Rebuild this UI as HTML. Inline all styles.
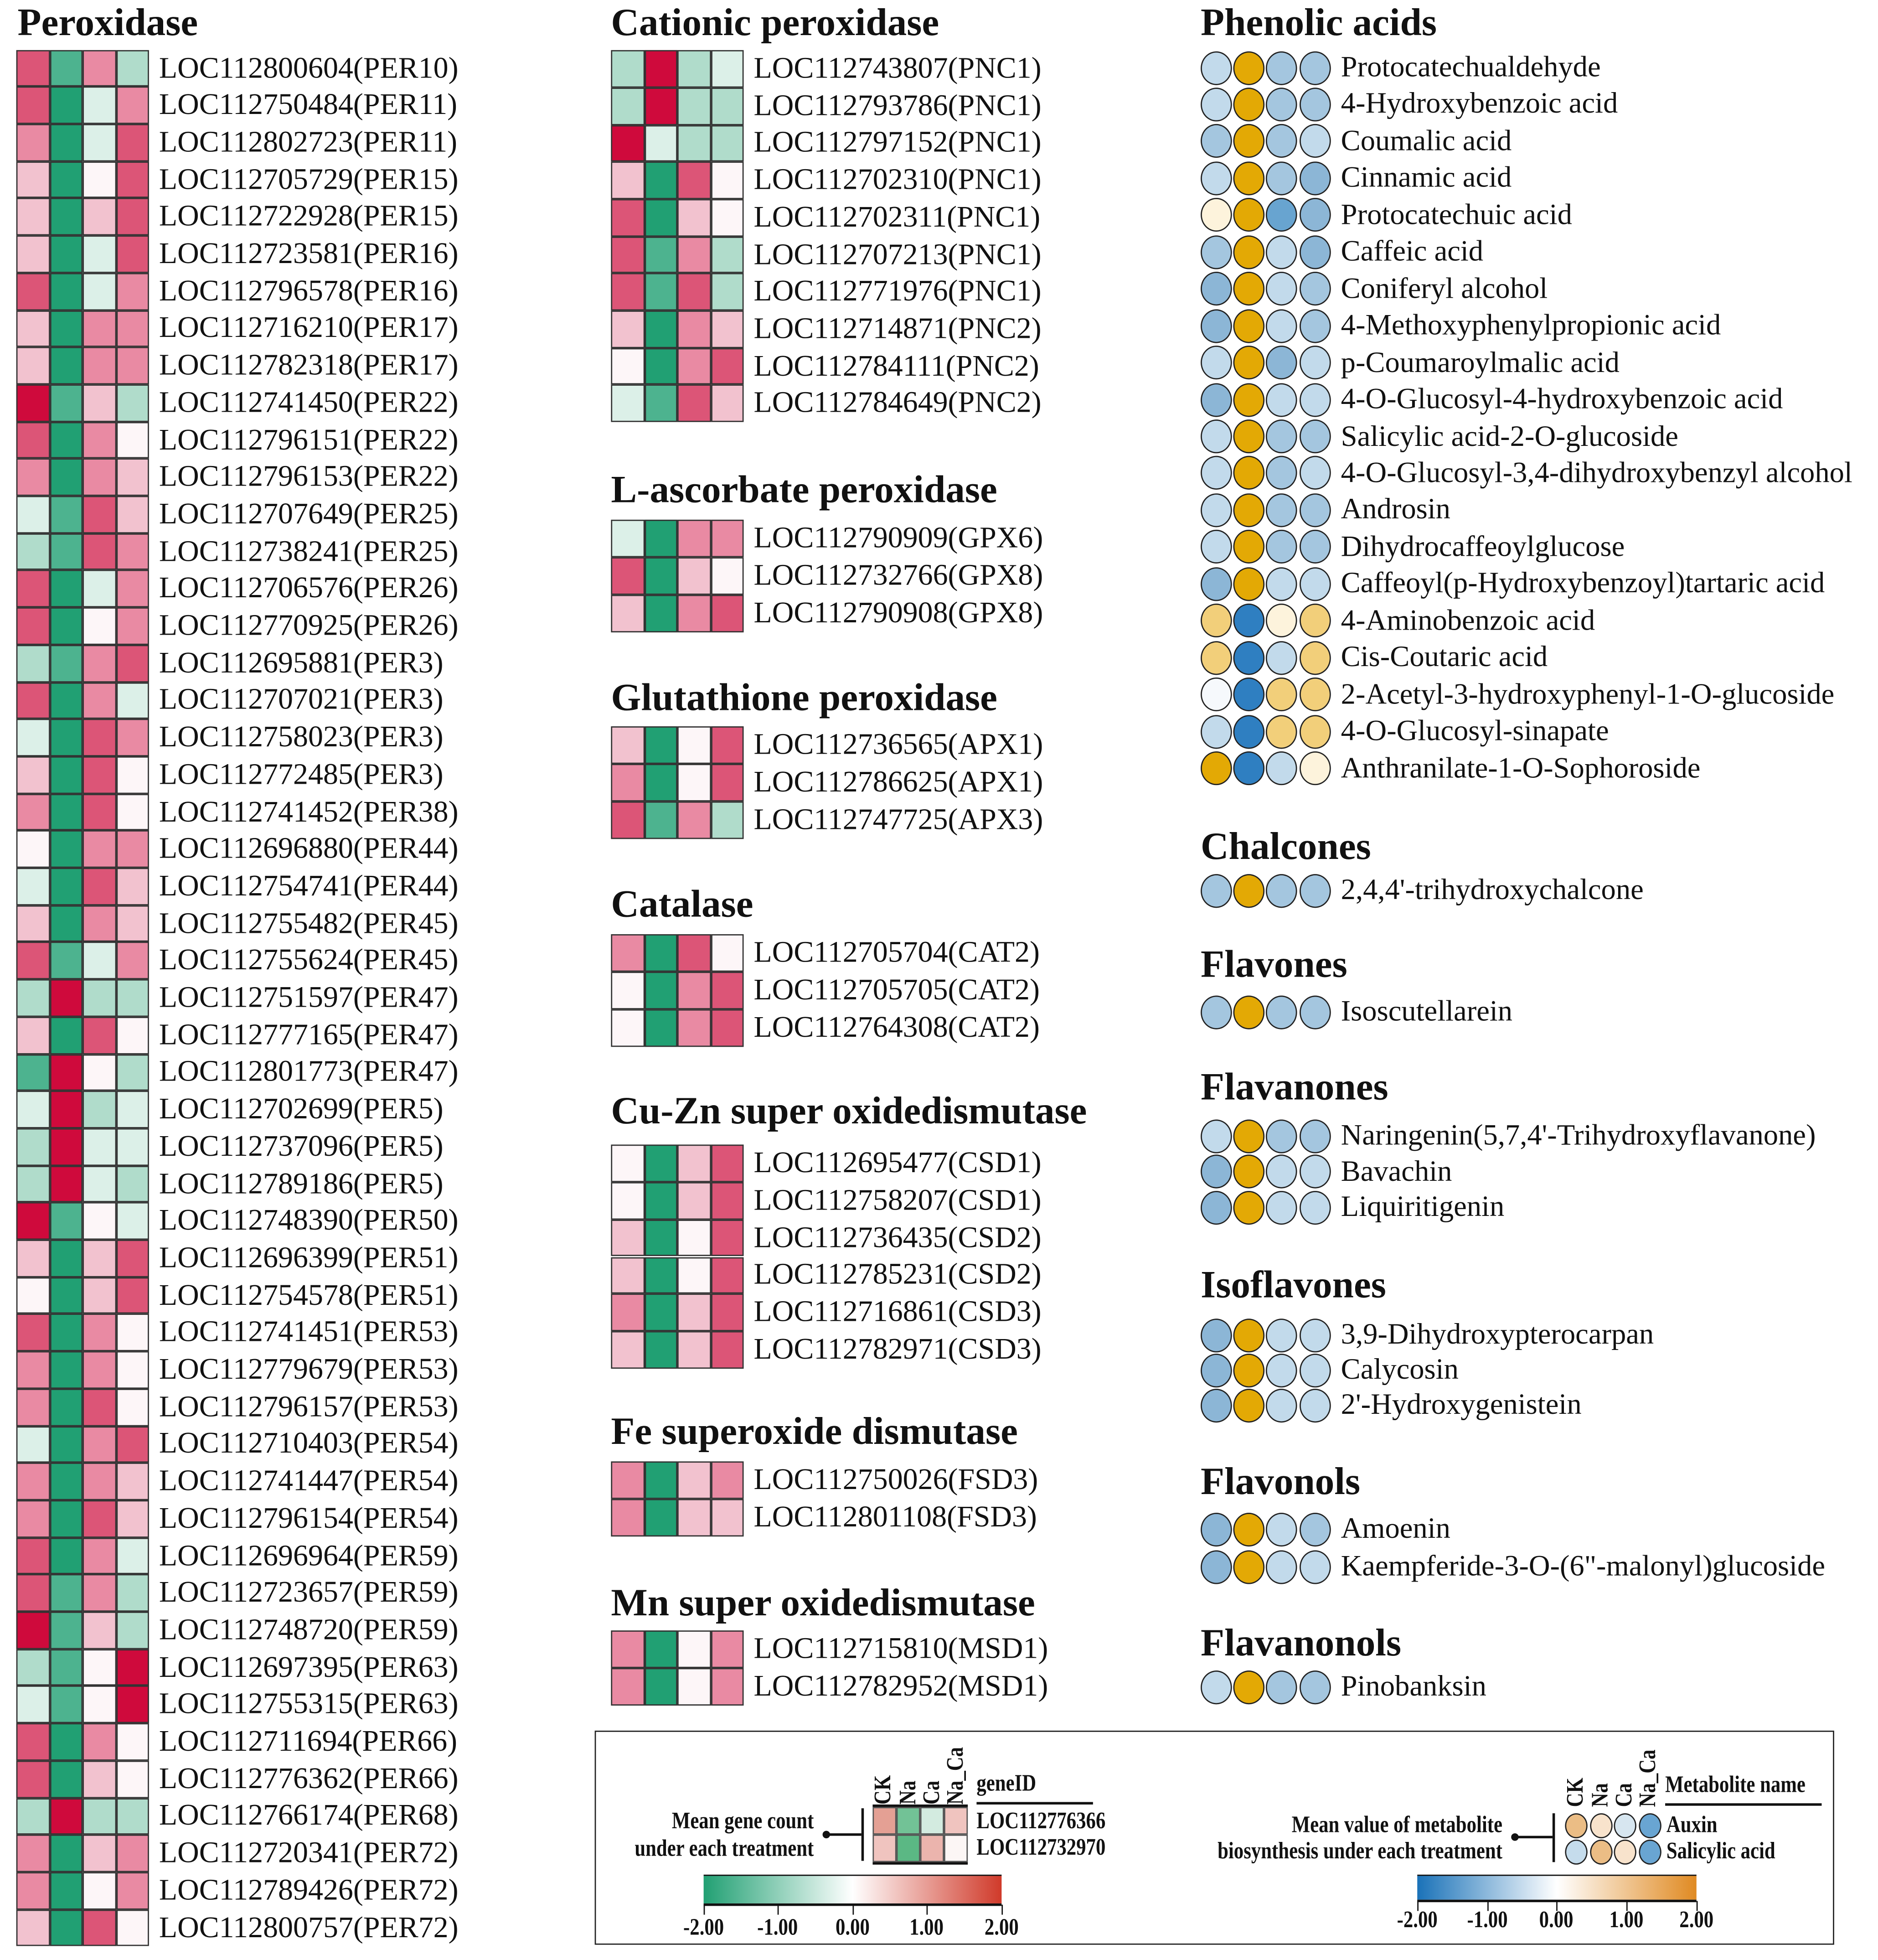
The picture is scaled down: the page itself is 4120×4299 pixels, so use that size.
<!DOCTYPE html>
<html><head><meta charset="utf-8"><style>
html,body{margin:0;padding:0;background:#fff;}
body{width:4120px;height:4298px;overflow:hidden;position:relative;}
#c{position:absolute;left:0;top:0;width:1500px;height:1565px;transform:scale(2.74667);transform-origin:0 0;font-family:"Liberation Serif",serif;color:#111;}
#c div{position:absolute;}
.t{font-weight:bold;font-size:31px;line-height:30px;white-space:nowrap;}
.l{font-size:24px;line-height:24px;white-space:nowrap;}
.m{font-size:23.5px;line-height:24px;white-space:nowrap;}
.cell{box-sizing:border-box;border:1px solid #333;}
.ci{box-sizing:border-box;border:1.3px solid #222;border-radius:50%;}
.s{font-size:19px;font-weight:bold;line-height:18px;white-space:nowrap;transform:scaleX(0.82);}
</style></head><body><div id="c"></div>
<script>
var C={R3:'#cf0a3c',R2:'#dc5577',R1:'#e98aa3',Rh:'#f2c2cf',W:'#fdf6f8',Gh:'#dcf0e8',G1:'#b0dccb',G2:'#4db38f',G3:'#21a073'};
var c=document.getElementById('c');
function d(x,y,w,h,cls,bg,txt){var e=document.createElement('div');e.style.left=x+'px';e.style.top=y+'px';if(w!=null)e.style.width=w+'px';if(h!=null)e.style.height=h+'px';if(cls)e.className=cls;if(bg)e.style.background=bg;if(txt!=null)e.textContent=txt;c.appendChild(e);return e;}
function title(x,y,t){d(x,y-15,null,null,'t',null,t);}
function heat(x,y0,rh,rows){rows.forEach(function(r,i){var cy=y0+i*rh;var cs=r[0].split(' ');for(var j=0;j<4;j++)d(x+j*26.5,cy-rh/2,26.5,rh,'cell',C[cs[j]]);d(x+114,cy-12,null,null,'l',null,r[1]);});}
title(14,18,'Peroxidase');
heat(13,54.5,29.7,[
['R2 G2 R1 G1','LOC112800604(PER10)'],['R2 G3 Gh R1','LOC112750484(PER11)'],['R1 G3 Gh R2','LOC112802723(PER11)'],['Rh G3 W R2','LOC112705729(PER15)'],['Rh G3 Rh R2','LOC112722928(PER15)'],['Rh G3 Gh R2','LOC112723581(PER16)'],['R2 G3 Gh R1','LOC112796578(PER16)'],['Rh G3 R1 R1','LOC112716210(PER17)'],['Rh G3 R1 R1','LOC112782318(PER17)'],['R3 G2 Rh G1','LOC112741450(PER22)'],['R2 G3 R1 W','LOC112796151(PER22)'],['R1 G3 R1 Rh','LOC112796153(PER22)'],['Gh G2 R2 Rh','LOC112707649(PER25)'],['G1 G2 R2 R1','LOC112738241(PER25)'],['R2 G3 Gh R1','LOC112706576(PER26)'],['R2 G3 W R1','LOC112770925(PER26)'],['G1 G2 R1 R2','LOC112695881(PER3)'],['R2 G3 R1 Gh','LOC112707021(PER3)'],['Gh G3 R2 R1','LOC112758023(PER3)'],['Rh G3 R2 W','LOC112772485(PER3)'],['R1 G3 R2 W','LOC112741452(PER38)'],['W G3 R1 R1','LOC112696880(PER44)'],['Gh G3 R2 Rh','LOC112754741(PER44)'],['Rh G3 R1 Rh','LOC112755482(PER45)'],['R2 G2 Gh R1','LOC112755624(PER45)'],['G1 R3 G1 G1','LOC112751597(PER47)'],['Rh G3 R2 W','LOC112777165(PER47)'],['G2 R3 W G1','LOC112801773(PER47)'],['Gh R3 G1 Gh','LOC112702699(PER5)'],['G1 R3 Gh Gh','LOC112737096(PER5)'],['G1 R3 Gh G1','LOC112789186(PER5)'],['R3 G2 W Gh','LOC112748390(PER50)'],['Rh G3 Rh R2','LOC112696399(PER51)'],['W G3 Rh R2','LOC112754578(PER51)'],['R2 G3 R1 W','LOC112741451(PER53)'],['R1 G3 R1 W','LOC112779679(PER53)'],['R1 G3 R2 W','LOC112796157(PER53)'],['Gh G3 R1 R2','LOC112710403(PER54)'],['R1 G3 R1 Rh','LOC112741447(PER54)'],['R1 G3 R2 Rh','LOC112796154(PER54)'],['R2 G3 R1 Gh','LOC112696964(PER59)'],['R2 G2 R1 G1','LOC112723657(PER59)'],['R3 G2 Rh G1','LOC112748720(PER59)'],['G1 G2 W R3','LOC112697395(PER63)'],['Gh G2 W R3','LOC112755315(PER63)'],['R2 G3 R1 W','LOC112711694(PER66)'],['R2 G3 Rh W','LOC112776362(PER66)'],['G1 R3 G1 G1','LOC112766174(PER68)'],['R1 G3 Rh R1','LOC112720341(PER72)'],['R1 G3 W R1','LOC112789426(PER72)'],['Rh G3 R2 W','LOC112800757(PER72)']]);
title(488,18,'Cationic peroxidase');
heat(488,55,29.7,[['G1 R3 G1 Gh','LOC112743807(PNC1)'],['G1 R3 G1 G1','LOC112793786(PNC1)'],['R3 Gh G1 G1','LOC112797152(PNC1)'],['Rh G3 R2 W','LOC112702310(PNC1)'],['R2 G3 Rh W','LOC112702311(PNC1)'],['R2 G2 R1 G1','LOC112707213(PNC1)'],['R2 G2 R2 G1','LOC112771976(PNC1)'],['Rh G3 R1 Rh','LOC112714871(PNC2)'],['W G3 R1 R2','LOC112784111(PNC2)'],['Gh G2 R2 Rh','LOC112784649(PNC2)']]);
title(488,391,'L-ascorbate peroxidase');
heat(488,430,30,[['Gh G3 R1 R1','LOC112790909(GPX6)'],['R2 G3 Rh W','LOC112732766(GPX8)'],['Rh G3 R1 R2','LOC112790908(GPX8)']]);
title(488,557,'Glutathione peroxidase');
heat(488,595,30,[['Rh G3 W R2','LOC112736565(APX1)'],['R1 G3 W R2','LOC112786625(APX1)'],['R2 G2 R1 G1','LOC112747725(APX3)']]);
title(488,722,'Catalase');
heat(488,761,30,[['R1 G3 R2 W','LOC112705704(CAT2)'],['W G3 R1 R2','LOC112705705(CAT2)'],['W G3 R1 R2','LOC112764308(CAT2)']]);
title(488,887,'Cu-Zn super oxidedismutase');
heat(488,929,29.8,[['W G3 Rh R2','LOC112695477(CSD1)'],['W G3 Rh R2','LOC112758207(CSD1)'],['Rh G3 W R2','LOC112736435(CSD2)'],['Rh G3 W R2','LOC112785231(CSD2)'],['R1 G3 Rh R2','LOC112716861(CSD3)'],['Rh G3 Rh R2','LOC112782971(CSD3)']]);
title(488,1143,'Fe superoxide dismutase');
heat(488,1182,30,[['R1 G3 Rh R1','LOC112750026(FSD3)'],['R1 G3 Rh Rh','LOC112801108(FSD3)']]);
title(488,1280,'Mn super oxidedismutase');
heat(488,1317,30,[['R1 G3 W R1','LOC112715810(MSD1)'],['R1 G3 W R1','LOC112782952(MSD1)']]);
var B={L:'#c2daeb',M:'#a4c6df',D:'#8cb6d6',K:'#2f7fc1',X:'#68a4d0',O:'#e3a905',P:'#f2cf7a',Q:'#fdf3dc',Wt:'#f6f9fc'};
function circ(y0,step,rows){rows.forEach(function(r,i){var cy=y0+i*step;var cs=r[0].split(' ');for(var j=0;j<4;j++)d(959+j*26.2,cy-13.5,25,27,'ci',B[cs[j]]);d(1071,cy-12,null,null,'m',null,r[1]);});}
title(959,18,'Phenolic acids');
circ(54,29.45,[['L O M M','Protocatechualdehyde'],['L O M M','4-Hydroxybenzoic acid'],['M O M L','Coumalic acid'],['L O M D','Cinnamic acid'],['Q O X D','Protocatechuic acid'],['M O L D','Caffeic acid'],['D O L M','Coniferyl alcohol'],['D O L M','4-Methoxyphenylpropionic acid'],['L O D L','p-Coumaroylmalic acid'],['D O L L','4-O-Glucosyl-4-hydroxybenzoic acid'],['L O M M','Salicylic acid-2-O-glucoside'],['L O M L','4-O-Glucosyl-3,4-dihydroxybenzyl alcohol'],['L O M M','Androsin'],['L O M M','Dihydrocaffeoylglucose'],['D O L L','Caffeoyl(p-Hydroxybenzoyl)tartaric acid'],['P K Q P','4-Aminobenzoic acid'],['P K L P','Cis-Coutaric acid'],['Wt K P P','2-Acetyl-3-hydroxyphenyl-1-O-glucoside'],['L K P P','4-O-Glucosyl-sinapate'],['O K L Q','Anthranilate-1-O-Sophoroside']]);
title(959,676,'Chalcones');circ(711,29,[['M O M M',"2,4,4'-trihydroxychalcone"]]);
title(959,770,'Flavones');circ(808,29,[['M O M M','Isoscutellarein']]);
title(959,868,'Flavanones');circ(907,28.5,[['L O M M',"Naringenin(5,7,4'-Trihydroxyflavanone)"],['D O L L','Bavachin'],['D O L L','Liquiritigenin']]);
title(959,1026,'Isoflavones');circ(1066,28,[['D O L L','3,9-Dihydroxypterocarpan'],['D O L L','Calycosin'],['D O L L',"2'-Hydroxygenistein"]]);
title(959,1183,'Flavonols');circ(1221,30,[['D O L M','Amoenin'],['D O L L','Kaempferide-3-O-(6"-malonyl)glucoside']]);
title(959,1312,'Flavanonols');circ(1347,29,[['L O M M','Pinobanksin']]);
var bx=d(475,1382,990,171,null,null);bx.style.border='1.5px solid #222';bx.style.boxSizing='border-box';
var lc=[['#e4a094','#72c296','#d3ebe0','#f0c4bf'],['#f0c4bf','#5bb884','#ebb4ad','#fcf6f5']];
for(var i=0;i<2;i++)for(var j=0;j<4;j++){var e=d(697+j*19,1443+i*22,19,22,null,lc[i][j]);e.style.border='0.5px solid #555';e.style.boxSizing='border-box';}
d(697,1441,76,2,null,'#111');d(697,1487,76,2,null,'#111');
d(688,1444,1.5,42,null,'#111');d(660,1464,28,2,null,'#111');var dt=d(657,1462,6,6,null,'#111');dt.style.borderRadius='50%';
function rot(x,y,t){var e=d(x,y,null,null,'s',null,t);e.style.transform='rotate(-90deg) scaleX(0.82)';e.style.transformOrigin='0 0';}
rot(697,1441,'CK');rot(717,1441,'Na');rot(736,1441,'Ca');rot(755,1441,'Na_Ca');
d(780,1416,null,null,'s',null,'geneID').style.transformOrigin='0 0';d(780,1439,93,2,null,'#111');
var a=d(780,1446,null,null,'s',null,'LOC112776366');a.style.transformOrigin='0 0';
a=d(780,1467,null,null,'s',null,'LOC112732970');a.style.transformOrigin='0 0';
a=d(400,1446,250,null,'s',null,'Mean gene count');a.style.textAlign='right';a.style.transformOrigin='100% 0';
a=d(400,1468,250,null,'s',null,'under each treatment');a.style.textAlign='right';a.style.transformOrigin='100% 0';
a=d(562,1497,238,22,null,'linear-gradient(to right,#21a073,#ffffff 50%,#d03a2a)');a.style.borderTop='1.5px solid #111';a.style.borderBottom='2px solid #111';
[562,621,681,740,800].forEach(function(x,k){d(x,1521,1,8,null,'#111');var t=d(x-25,1531,50,null,'s',null,['-2.00','-1.00','0.00','1.00','2.00'][k]);t.style.textAlign='center';});
var rc=[['#ebbd85','#f8e3cc','#d7e6f0','#69a5d2'],['#c5dcec','#ebbd85','#f8e3cc','#69a5d2']];
for(var i=0;i<2;i++)for(var j=0;j<4;j++){d(1250+j*19.5,1448+i*21,18,20,'ci',rc[i][j]);}
d(1240,1448,1.5,39,null,'#111');d(1210,1466,30,2,null,'#111');dt=d(1207,1464,6,6,null,'#111');dt.style.borderRadius='50%';
rot(1250,1443,'CK');rot(1270,1443,'Na');rot(1289,1443,'Ca');rot(1308,1443,'Na_Ca');
a=d(1330,1417,null,null,'s',null,'Metabolite name');a.style.transformOrigin='0 0';d(1330,1440,125,2,null,'#111');
a=d(1331,1449,null,null,'s',null,'Auxin');a.style.transformOrigin='0 0';
a=d(1331,1470,null,null,'s',null,'Salicylic acid');a.style.transformOrigin='0 0';
a=d(850,1449,350,null,'s',null,'Mean value of metabolite');a.style.textAlign='right';a.style.transformOrigin='100% 0';
a=d(850,1470,350,null,'s',null,'biosynthesis under each treatment');a.style.textAlign='right';a.style.transformOrigin='100% 0';
a=d(1132,1497,223,19,null,'linear-gradient(to right,#1a72b8,#ffffff 50%,#e08a22)');a.style.borderTop='1.5px solid #111';a.style.borderBottom='2px solid #111';
[1132,1188,1243,1299,1355].forEach(function(x,k){d(x,1518,1,8,null,'#111');var t=d(x-25,1525,50,null,'s',null,['-2.00','-1.00','0.00','1.00','2.00'][k]);t.style.textAlign='center';});
</script></body></html>
